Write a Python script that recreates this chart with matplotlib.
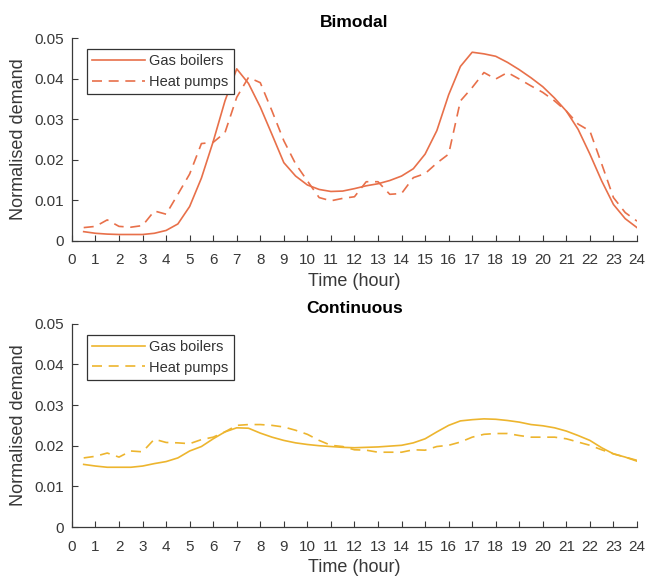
import numpy as np
import matplotlib
matplotlib.use("Agg")
import matplotlib.pyplot as plt

plt.rcParams['font.family'] = ['Liberation Sans', 'DejaVu Sans']

# half-hourly points, 0.5 .. 24
hours = np.arange(0.5, 24.5, 0.5)

bimodal_gas = [0.0023, 0.0019, 0.0017, 0.0016, 0.0016, 0.0016, 0.0019, 0.0026,
               0.0042, 0.0085, 0.0155, 0.0245, 0.0345, 0.0424, 0.0388, 0.0330,
               0.0262, 0.0193, 0.0160, 0.0138, 0.0127, 0.0122, 0.0123, 0.0129,
               0.0136, 0.0141, 0.0149, 0.0160, 0.0178, 0.0214, 0.0272, 0.0360,
               0.0430, 0.0465, 0.0461, 0.0455, 0.0440, 0.0422, 0.0402, 0.0380,
               0.0352, 0.0320, 0.0275, 0.0214, 0.0148, 0.0090, 0.0055, 0.0033]
bimodal_hp = [0.0033, 0.0036, 0.0052, 0.0036, 0.0034, 0.0038, 0.0074, 0.0066,
              0.0115, 0.0165, 0.0240, 0.0243, 0.0267, 0.0354, 0.0403, 0.0390,
              0.0320, 0.0247, 0.0190, 0.0148, 0.0107, 0.0099, 0.0105, 0.0109,
              0.0146, 0.0146, 0.0115, 0.0117, 0.0156, 0.0166, 0.0192, 0.0214,
              0.0345, 0.0378, 0.0415, 0.0399, 0.0415, 0.0399, 0.0382, 0.0366,
              0.0345, 0.0320, 0.0288, 0.0271, 0.0190, 0.0107, 0.0070, 0.0049]

continuous_gas = [0.0154, 0.0150, 0.0147, 0.0147, 0.0147, 0.0150, 0.0156, 0.0161,
                  0.0170, 0.0187, 0.0198, 0.0217, 0.0234, 0.0244, 0.0243, 0.0231,
                  0.0221, 0.0213, 0.0207, 0.0203, 0.0200, 0.0198, 0.0196, 0.0195,
                  0.0196, 0.0197, 0.0199, 0.0201, 0.0207, 0.0217, 0.0234, 0.0250,
                  0.0261, 0.0264, 0.0266, 0.0265, 0.0262, 0.0258, 0.0252, 0.0249,
                  0.0244, 0.0236, 0.0225, 0.0213, 0.0195, 0.0180, 0.0172, 0.0162]
continuous_hp = [0.0170, 0.0174, 0.0182, 0.0172, 0.0187, 0.0185, 0.0216, 0.0208,
                 0.0207, 0.0205, 0.0215, 0.0221, 0.0234, 0.0250, 0.0252, 0.0252,
                 0.0250, 0.0246, 0.0238, 0.0228, 0.0213, 0.0201, 0.0198, 0.0190,
                 0.0189, 0.0184, 0.0184, 0.0184, 0.0190, 0.0189, 0.0198, 0.0201,
                 0.0209, 0.0221, 0.0228, 0.0230, 0.0230, 0.0225, 0.0221, 0.0221,
                 0.0221, 0.0217, 0.0209, 0.0201, 0.0190, 0.0180, 0.0172, 0.0164]

yticks = [0, 0.01, 0.02, 0.03, 0.04, 0.05]
ytick_labels = ["0", "0.01", "0.02", "0.03", "0.04", "0.05"]

fig = plt.figure(figsize=(6.48, 5.76), dpi=100)
ax1 = fig.add_axes([0.111, 0.5816, 0.872, 0.3524])
ax2 = fig.add_axes([0.111, 0.085, 0.872, 0.353])

panels = [
    (ax1, "Bimodal", bimodal_gas, bimodal_hp, "#E8704A"),
    (ax2, "Continuous", continuous_gas, continuous_hp, "#EDB52E"),
]

for ax, title, gas, hp, color in panels:
    ax.plot(hours, gas, '-', color=color, lw=1.2, label="Gas boilers")
    ax.plot(hours, hp, '--', color=color, lw=1.2, dashes=(6, 4), label="Heat pumps")
    ax.set_xlim(0, 24)
    ax.set_ylim(0, 0.05)
    ax.set_xticks(range(0, 25))
    ax.set_yticks(yticks)
    ax.set_yticklabels(ytick_labels)
    for s in ["top", "right"]:
        ax.spines[s].set_visible(False)
    for s in ["left", "bottom"]:
        ax.spines[s].set_color("#3a3a3a")
        ax.spines[s].set_linewidth(0.9)
    ax.tick_params(direction="in", length=4, width=0.8, color="#3a3a3a",
                   labelsize=11, labelcolor="#383838")
    ax.tick_params(axis="x", pad=9)
    ax.tick_params(axis="y", pad=6)
    ax.set_xlabel("Time (hour)", fontsize=13, color="#383838", labelpad=4)
    ax.set_ylabel("Normalised demand", fontsize=13, color="#383838", labelpad=5)
    ax.set_title(title, fontsize=12.5, fontweight="bold", pad=8)
    leg = ax.legend(loc="upper left", bbox_to_anchor=(0.027, 0.945), fontsize=10.5,
                    fancybox=False, framealpha=1, edgecolor="#333333",
                    handlelength=3.6, borderpad=0.35, labelspacing=0.45,
                    handletextpad=0.3, borderaxespad=0)
    leg.get_frame().set_linewidth(0.9)
    for t in leg.get_texts():
        t.set_color("#333333")

fig.savefig("out.png", dpi=100)
